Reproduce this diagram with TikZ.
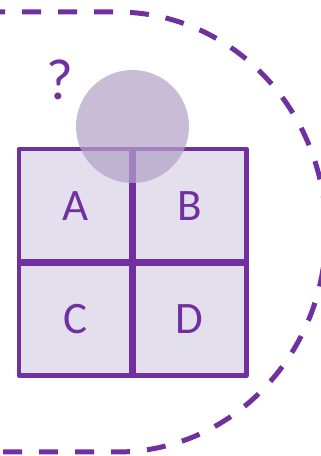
\documentclass[tikz,border=0pt]{standalone}
\usepackage{fontspec}
\setmainfont{Carlito}
\definecolor{deeppurple}{HTML}{7030A0}
\definecolor{cellfill}{HTML}{E4DFEC}
\definecolor{discfill}{HTML}{B3A2C7}
\tikzset{
  cell/.style={rectangle, fill=cellfill, inner sep=0pt, minimum width=113.5pt,
    minimum height=113pt, text=deeppurple, font=\fontsize{45}{45}\selectfont},
  frame/.style={draw=deeppurple, line width=4.5pt, line join=round},
  divider/.style={draw=deeppurple, line width=7pt},
  boundary/.style={draw=deeppurple, line width=5pt, dash pattern=on 19pt off 17pt},
  disc/.style={circle, fill=discfill, fill opacity=0.72, inner sep=0pt, minimum size=113pt},
  query/.style={text=deeppurple, inner sep=0pt, font=\fontsize{58}{58}\selectfont}
}
\begin{document}
\begin{tikzpicture}[x=1pt, y=1pt]
  \useasboundingbox (0,0) rectangle (321,456);
  \clip (0,0) rectangle (321,456);
  % dashed outer boundary
  \draw[boundary] (-14,444) -- (117,444)
    arc[start angle=90, end angle=-90, x radius=209, y radius=220] -- (-14,4);
  % 2x2 grid of cells
  \node[cell] (A) at (75.75,250.25) {A};
  \node[cell] (B) at (189.75,250.25) {B};
  \node[cell] (C) at (75.75,137.25) {C};
  \node[cell] (D) at (189.75,137.25) {D};
  \draw[divider] (A.north east) -- (C.south east);
  \draw[divider] (A.south west) -- (B.south east);
  \draw[frame] (A.north west) rectangle (D.south east);
  % translucent disc over the top edge
  \node[disc] (disc) at (132.5,329.5) {};
  \node[query] (q) at (60,376) {?};
\end{tikzpicture}
\end{document}
